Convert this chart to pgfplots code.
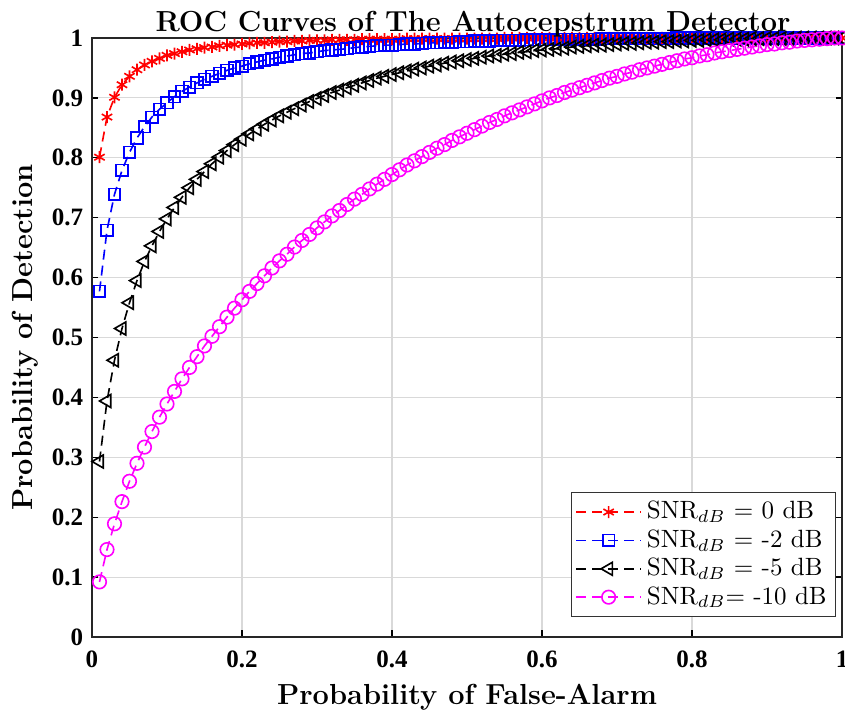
\documentclass[border=0pt]{standalone}
\usepackage{fontspec}
\usepackage{pgfplots}
\usepackage{pgfplotstable}
\pgfplotsset{compat=1.18}
\newfontfamily\tickfont{Liberation Serif}
\definecolor{mag}{rgb}{1,0,1}
\definecolor{rd}{rgb}{1,0,0}
\definecolor{bl}{rgb}{0,0,1}

\pgfplotstableread{
x y
0.01 0.801
0.02 0.868
0.03 0.901
0.04 0.922
0.05 0.936
0.06 0.947
0.07 0.955
0.08 0.961
0.09 0.966
0.10 0.971
0.11 0.974
0.12 0.977
0.13 0.980
0.14 0.982
0.15 0.984
0.16 0.985
0.17 0.987
0.18 0.988
0.19 0.989
0.20 0.990
0.21 0.991
0.22 0.992
0.23 0.992
0.24 0.993
0.25 0.994
0.26 0.994
0.27 0.995
0.28 0.995
0.29 0.996
0.30 0.996
0.31 0.996
0.32 0.997
0.33 0.997
0.34 0.997
0.35 0.997
0.36 0.998
0.37 0.998
0.38 0.998
0.39 0.998
0.40 0.998
0.41 0.998
0.42 0.999
0.43 0.999
0.44 0.999
0.45 0.999
0.46 0.999
0.47 0.999
0.48 0.999
0.49 0.999
0.50 0.999
0.51 0.999
0.52 0.999
0.53 0.999
0.54 0.999
0.55 1.000
0.56 1.000
0.57 1.000
0.58 1.000
0.59 1.000
0.60 1.000
0.61 1.000
0.62 1.000
0.63 1.000
0.64 1.000
0.65 1.000
0.66 1.000
0.67 1.000
0.68 1.000
0.69 1.000
0.70 1.000
0.71 1.000
0.72 1.000
0.73 1.000
0.74 1.000
0.75 1.000
0.76 1.000
0.77 1.000
0.78 1.000
0.79 1.000
0.80 1.000
0.81 1.000
0.82 1.000
0.83 1.000
0.84 1.000
0.85 1.000
0.86 1.000
0.87 1.000
0.88 1.000
0.89 1.000
0.90 1.000
0.91 1.000
0.92 1.000
0.93 1.000
0.94 1.000
0.95 1.000
0.96 1.000
0.97 1.000
0.98 1.000
0.99 1.000
1.00 1.000
}\snrA

\pgfplotstableread{
x y
0.01 0.577
0.02 0.679
0.03 0.739
0.04 0.779
0.05 0.809
0.06 0.833
0.07 0.852
0.08 0.868
0.09 0.881
0.10 0.892
0.11 0.902
0.12 0.911
0.13 0.918
0.14 0.925
0.15 0.931
0.16 0.936
0.17 0.941
0.18 0.946
0.19 0.950
0.20 0.953
0.21 0.957
0.22 0.960
0.23 0.963
0.24 0.965
0.25 0.968
0.26 0.970
0.27 0.972
0.28 0.974
0.29 0.975
0.30 0.977
0.31 0.979
0.32 0.980
0.33 0.981
0.34 0.982
0.35 0.984
0.36 0.985
0.37 0.986
0.38 0.987
0.39 0.988
0.40 0.988
0.41 0.989
0.42 0.990
0.43 0.990
0.44 0.991
0.45 0.992
0.46 0.992
0.47 0.993
0.48 0.993
0.49 0.994
0.50 0.994
0.51 0.995
0.52 0.995
0.53 0.995
0.54 0.996
0.55 0.996
0.56 0.996
0.57 0.996
0.58 0.997
0.59 0.997
0.60 0.997
0.61 0.997
0.62 0.998
0.63 0.998
0.64 0.998
0.65 0.998
0.66 0.998
0.67 0.998
0.68 0.999
0.69 0.999
0.70 0.999
0.71 0.999
0.72 0.999
0.73 0.999
0.74 0.999
0.75 0.999
0.76 0.999
0.77 0.999
0.78 1.000
0.79 1.000
0.80 1.000
0.81 1.000
0.82 1.000
0.83 1.000
0.84 1.000
0.85 1.000
0.86 1.000
0.87 1.000
0.88 1.000
0.89 1.000
0.90 1.000
0.91 1.000
0.92 1.000
0.93 1.000
0.94 1.000
0.95 1.000
0.96 1.000
0.97 1.000
0.98 1.000
0.99 1.000
1.00 1.000
}\snrB

\pgfplotstableread{
x y
0.01 0.293
0.02 0.394
0.03 0.462
0.04 0.515
0.05 0.558
0.06 0.595
0.07 0.627
0.08 0.653
0.09 0.677
0.10 0.698
0.11 0.717
0.12 0.734
0.13 0.750
0.14 0.764
0.15 0.777
0.16 0.790
0.17 0.801
0.18 0.812
0.19 0.822
0.20 0.831
0.21 0.840
0.22 0.848
0.23 0.856
0.24 0.863
0.25 0.870
0.26 0.876
0.27 0.882
0.28 0.888
0.29 0.894
0.30 0.899
0.31 0.904
0.32 0.909
0.33 0.913
0.34 0.917
0.35 0.921
0.36 0.925
0.37 0.929
0.38 0.933
0.39 0.936
0.40 0.939
0.41 0.942
0.42 0.945
0.43 0.948
0.44 0.950
0.45 0.953
0.46 0.955
0.47 0.958
0.48 0.960
0.49 0.962
0.50 0.964
0.51 0.966
0.52 0.968
0.53 0.970
0.54 0.971
0.55 0.973
0.56 0.974
0.57 0.976
0.58 0.977
0.59 0.979
0.60 0.980
0.61 0.981
0.62 0.982
0.63 0.983
0.64 0.985
0.65 0.986
0.66 0.987
0.67 0.988
0.68 0.988
0.69 0.989
0.70 0.990
0.71 0.991
0.72 0.991
0.73 0.992
0.74 0.993
0.75 0.993
0.76 0.994
0.77 0.994
0.78 0.995
0.79 0.995
0.80 0.996
0.81 0.996
0.82 0.997
0.83 0.997
0.84 0.997
0.85 0.998
0.86 0.998
0.87 0.998
0.88 0.999
0.89 0.999
0.90 0.999
0.91 0.999
0.92 0.999
0.93 0.999
0.94 1.000
0.95 1.000
0.96 1.000
0.97 1.000
0.98 1.000
0.99 1.000
1.00 1.000
}\snrC

\pgfplotstableread{
x y
0.01 0.092
0.02 0.146
0.03 0.189
0.04 0.226
0.05 0.260
0.06 0.290
0.07 0.317
0.08 0.343
0.09 0.367
0.10 0.389
0.11 0.410
0.12 0.431
0.13 0.450
0.14 0.468
0.15 0.486
0.16 0.502
0.17 0.518
0.18 0.534
0.19 0.549
0.20 0.563
0.21 0.577
0.22 0.590
0.23 0.603
0.24 0.616
0.25 0.628
0.26 0.639
0.27 0.651
0.28 0.662
0.29 0.672
0.30 0.683
0.31 0.693
0.32 0.703
0.33 0.712
0.34 0.722
0.35 0.731
0.36 0.739
0.37 0.748
0.38 0.756
0.39 0.764
0.40 0.772
0.41 0.780
0.42 0.788
0.43 0.795
0.44 0.802
0.45 0.809
0.46 0.816
0.47 0.822
0.48 0.829
0.49 0.835
0.50 0.841
0.51 0.847
0.52 0.853
0.53 0.859
0.54 0.864
0.55 0.870
0.56 0.875
0.57 0.880
0.58 0.885
0.59 0.890
0.60 0.895
0.61 0.900
0.62 0.904
0.63 0.909
0.64 0.913
0.65 0.917
0.66 0.921
0.67 0.925
0.68 0.929
0.69 0.933
0.70 0.936
0.71 0.940
0.72 0.943
0.73 0.947
0.74 0.950
0.75 0.953
0.76 0.956
0.77 0.959
0.78 0.962
0.79 0.965
0.80 0.967
0.81 0.970
0.82 0.972
0.83 0.975
0.84 0.977
0.85 0.979
0.86 0.981
0.87 0.983
0.88 0.985
0.89 0.987
0.90 0.989
0.91 0.990
0.92 0.992
0.93 0.993
0.94 0.995
0.95 0.996
0.96 0.997
0.97 0.998
0.98 0.999
0.99 1.000
1.00 1.000
}\snrD

\begin{document}
\begin{tikzpicture}
\begin{axis}[
  scale only axis,
  width=300pt, height=239.6pt,
  xmin=0, xmax=1, ymin=0, ymax=1,
  xtick={0,0.2,0.4,0.6,0.8,1},
  ytick={0,0.1,0.2,0.3,0.4,0.5,0.6,0.7,0.8,0.9,1},
  xticklabels={0,0.2,0.4,0.6,0.8,1},
  yticklabels={0,0.1,0.2,0.3,0.4,0.5,0.6,0.7,0.8,0.9,1},
  tick align=inside, xtick pos=both, ytick pos=both,
  major tick length=2.6pt,
  tick style={black, line width=0.5pt},
  grid=major,
  major grid style={black!15, line width=0.45pt},
  axis line style={black!85, line width=0.55pt},
  ticklabel style={font=\tickfont\bfseries\fontsize{10}{12}\selectfont},
  xticklabel shift=2pt,
  title={ROC Curves of The Autocepstrum Detector},
  title style={font=\fontsize{11.6}{14}\selectfont\bfseries, at={(axis description cs:0.5,1)}, anchor=base, yshift=-3.6pt, xshift=2.4pt},
  xlabel={Probability of False-Alarm},
  ylabel={Probability of Detection},
  xlabel style={font=\fontsize{11.6}{14}\selectfont\bfseries, at={(axis description cs:0.5,-0.1119)}, anchor=base},
  ylabel style={font=\fontsize{11.6}{14}\selectfont\bfseries, at={(axis description cs:-0.0787,0.5)}, anchor=base},
  every axis plot/.append style={line width=0.65pt, dash pattern=on 4pt off 2.4pt},
  legend style={font=\fontsize{10}{12}\selectfont, draw=black!80, line width=0.5pt,
    at={(0.992,0.033)}, anchor=south east, inner sep=1.5pt, row sep=-1.2pt},
  legend cell align=left,
  legend image code/.code={\draw[mark repeat=2,mark phase=2] plot coordinates {(0pt,0pt) (13pt,0pt) (26pt,0pt)};},
]
\addplot[color=rd, mark=asterisk, mark size=2.4pt, mark options={solid}] table[x=x,y=y] {\snrA};
\addlegendentry{SNR$_{dB}$ = 0 dB}
\addplot[color=bl, mark=square, mark size=2.3pt, mark options={solid}] table[x=x,y=y] {\snrB};
\addlegendentry{SNR$_{dB}$ = -2 dB}
\addplot[color=black, mark=triangle, mark size=3pt, mark options={solid, rotate=90}] table[x=x,y=y] {\snrC};
\addlegendentry{SNR$_{dB}$ = -5 dB}
\addplot[color=mag, mark=o, mark size=2.7pt, mark options={solid}] table[x=x,y=y] {\snrD};
\addlegendentry{SNR$_{dB}$= -10 dB}
\end{axis}
\pgfresetboundingbox
\path[use as bounding box] (-36.8pt,-32pt) rectangle (301.2pt,254.8pt);
\end{tikzpicture}
\end{document}
